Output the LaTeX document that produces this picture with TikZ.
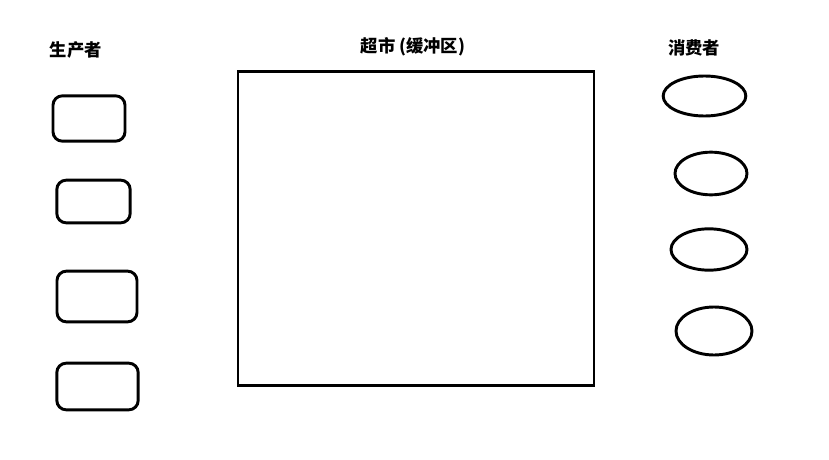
\documentclass[tikz,border=0pt]{standalone}
\usepackage{fontspec}
\newfontfamily\cjk{Noto Sans CJK SC}
\usepackage{tikz}
\usetikzlibrary{shapes,positioning}
\tikzset{
  basic/.style  = {draw, line width=2.2pt, inner sep=0pt},
  producer/.style = {basic, rectangle, rounded corners=7pt},
  consumer/.style = {basic, ellipse},
  title/.style = {font=\cjk\bfseries\fontsize{13}{15}\selectfont}
}

\begin{document}
\begin{tikzpicture}[x=0.75pt,y=-0.75pt]
\useasboundingbox (0,0) rectangle (829,460);
% titles
\node[title] (ptitle) at (76,50) {生产者};
\node[title] (btitle) at (413,47) {超市\ (缓冲区)};
\node[title] (ctitle) at (694,48) {消费者};
% producers
\node[producer, minimum width=54pt, minimum height=34pt] (p1) at (89,118.5) {};
\node[producer, minimum width=55pt, minimum height=32pt] (p2) at (93.5,201.5) {};
\node[producer, minimum width=60pt, minimum height=38pt] (p3) at (97,296.5) {};
\node[producer, minimum width=61pt, minimum height=35pt] (p4) at (97.5,386.5) {};
% buffer
\node[basic, rectangle, minimum width=267pt, minimum height=236pt] (buffer) at (416,228.5) {};
% consumers
\node[consumer, minimum width=62pt, minimum height=30pt] (c1) at (704.5,96) {};
\node[consumer, minimum width=54pt, minimum height=32pt] (c2) at (711,173.5) {};
\node[consumer, minimum width=57pt, minimum height=31pt] (c3) at (709,249.5) {};
\node[consumer, minimum width=57pt, minimum height=36pt] (c4) at (714,331) {};
\end{tikzpicture}
\end{document}
